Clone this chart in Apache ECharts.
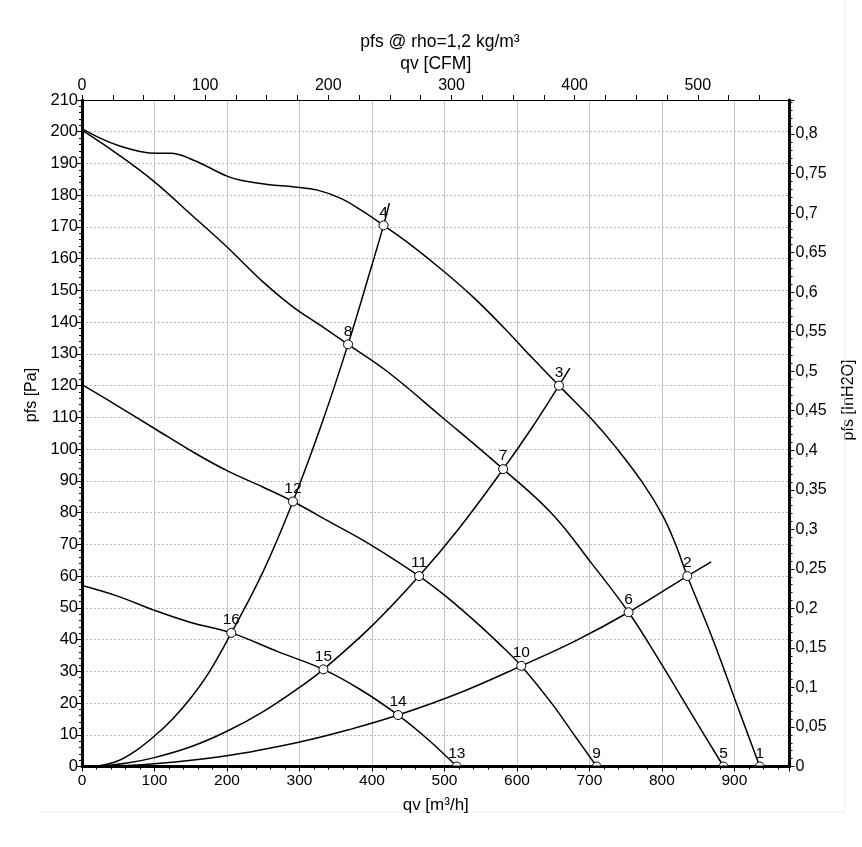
<!DOCTYPE html>
<html>
<head>
<meta charset="utf-8">
<script src="https://cdn.jsdelivr.net/npm/echarts@6/dist/echarts.min.js"></script>
<style>
html,body{margin:0;padding:0;background:#fff;}
#chart{width:862px;height:847px;}
</style>
</head>
<body>
<div id="chart"></div>
<script>
// ---- data (qv in m3/h, pfs in Pa) ----
const curve1 = [[0,201],[25,198],[52,195.5],[80,193.8],[103,193.2],[122,193.2],[154,191],[200,186],[219,184.7],[256,183.4],[293,182.6],[325,181.6],[357,179],[385,175.3],[416,170.5],[454,164.3],[496,156.6],[540,147.8],[583,138],[620,129],[658,120],[703,109.5],[736,100.7],[773,89.5],[800,79.5],[818,70.5],[835,60],[870,40.2],[905,18.5],[935,0]];
const curve5 = [[0,200.5],[50,192.8],[100,184.2],[150,174],[200,163.7],[250,152.6],[290,145],[330,138.8],[367,133],[422,124.3],[496,110.2],[581,93.7],[648,79.7],[703,64],[754,48.6],[796,33.5],[846,14.6],[885,0]];
const curve9 = [[0,120.3],[50,113.5],[100,106.5],[150,99.5],[200,93.2],[250,88],[291,83.5],[340,77.3],[400,69.6],[465,60],[500,54],[540,46.2],[575,38.8],[606,31.7],[648,19.9],[680,9.6],[710,0]];
const curve13 = [[0,57],[50,53.6],[100,49.2],[150,45.4],[206,42.1],[270,36.2],[333,30.6],[385,24.1],[436,16.2],[477,8.6],[517,0]];
const system1 = [[18,0],[50,1.8],[75,5.1],[100,9.6],[125,15],[150,21.6],[175,29.6],[206,42.1],[250,61.5],[291,83.5],[330,107.5],[367,133],[400,158],[416,170.5],[424,177.5]];
const system2 = [[18,0],[60,1],[100,2.8],[150,6.2],[200,11.1],[250,17.3],[300,24.9],[333,30.6],[400,44.3],[465,60],[520,75],[581,93.7],[620,106.5],[658,120],[673,125.5]];
const system3 = [[18,0],[100,0.9],[200,3.4],[300,7.7],[370,11.7],[436,16.2],[523,23.4],[606,31.7],[680,39.5],[754,48.6],[835,60],[868,64.5]];
const markerIds = ['1','2','3','4','5','6','7','8','9','10','11','12','13','14','15','16'];
const markerQ = [935,835,658,416,885,754,581,367,710,606,465,291,517,436,333,206];
const markerP = [0,60,120,170.5,0,48.6,93.7,133,0,31.7,60,83.5,0,16.2,30.6,42.1];
const xTickLabels = [0,100,200,300,400,500,600,700,800,900];
const cfmTickLabels = [0,100,200,300,400,500];
const qMax = 976;          // m3/h
const pMax = 210;          // Pa
const CFM = 1.699;         // m3/h per CFM
const PA_PER_INH2O = 249.089;

const font = 'Liberation Sans, Arial, sans-serif';
const chart = echarts.init(document.getElementById('chart'), null, {renderer:'canvas'});

const lineSeries = [curve1, curve5, curve9, curve13, system1, system2, system3].map(d => ({
  type:'line', xAxisIndex:0, yAxisIndex:0, data:d, smooth:0.4, showSymbol:false,
  lineStyle:{color:'#000', width:1.5}, silent:true, z:3
}));

const markerData = markerIds.map((id,i) => ({name:id, value:[markerQ[i], markerP[i]]}));

chart.setOption({
  animation:false,
  backgroundColor:'#fff',
  grid:{left:82, right:72.5, top:100, bottom:80.5, containLabel:false},
  xAxis:[
    {type:'value', position:'bottom', min:0, max:qMax, interval:100,
      name:'qv [m³/h]', nameLocation:'middle', nameGap:30,
      nameTextStyle:{fontFamily:font, fontSize:17, color:'#000'},
      axisLine:{show:true, onZero:false, lineStyle:{color:'#000', width:3}},
      axisTick:{show:true, length:5, lineStyle:{color:'#000', width:1}},
      minorTick:{show:true, splitNumber:5, length:3, lineStyle:{color:'#000'}},
      axisLabel:{margin:6, fontFamily:font, fontSize:15.5, color:'#000',
        formatter: v => xTickLabels.includes(v) ? String(v) : ''},
      splitLine:{show:true, lineStyle:{color:'#c4c4c4', width:1, type:'solid'}}
    },
    {type:'value', position:'top', min:0, max:qMax/CFM, interval:25,
      name:'qv [CFM]', nameLocation:'middle', nameGap:27,
      nameTextStyle:{fontFamily:font, fontSize:17.5, color:'#000'},
      axisLine:{show:true, onZero:false, lineStyle:{color:'#000', width:1}},
      axisTick:{show:true, length:5, lineStyle:{color:'#000'}},
      axisLabel:{margin:6, fontFamily:font, fontSize:16, color:'#000', showMaxLabel:false,
        formatter: v => cfmTickLabels.includes(v) ? String(v) : ''},
      splitLine:{show:false}
    }
  ],
  yAxis:[
    {type:'value', position:'left', min:0, max:pMax, interval:10,
      axisLine:{show:true, onZero:false, lineStyle:{color:'#000', width:3}},
      axisTick:{show:true, length:5, lineStyle:{color:'#000'}},
      minorTick:{show:true, splitNumber:5, length:3, lineStyle:{color:'#000'}},
      axisLabel:{margin:4, fontFamily:font, fontSize:16.5, color:'#000'},
      splitLine:{show:true, lineStyle:{color:'#b8b8b8', width:1, type:[2,2]}}
    },
    {type:'value', position:'right', min:0, max:pMax/PA_PER_INH2O, interval:0.05,
      axisLine:{show:true, onZero:false, lineStyle:{color:'#000', width:3}},
      axisTick:{show:true, length:5, lineStyle:{color:'#000'}},
      minorTick:{show:true, splitNumber:5, length:3, lineStyle:{color:'#000'}},
      axisLabel:{margin:6, fontFamily:font, fontSize:16, color:'#000', showMaxLabel:false,
        formatter: v => {
          const k = v*20;
          if (Math.abs(k - Math.round(k)) > 1e-6) return '';
          return String(+v.toFixed(2)).replace('.', ',');
        }},
      splitLine:{show:false}
    }
  ],
  series: lineSeries.concat([{
    type:'custom', xAxisIndex:0, yAxisIndex:0, data:markerData, z:5, silent:true, clip:false,
    encode:{x:0, y:1},
    renderItem:(params, api) => {
      const pt = api.coord([api.value(0), api.value(1)]);
      const cs = params.coordSys;
      return {type:'group', children:[
        {type:'circle', shape:{cx:pt[0], cy:pt[1], r:4.5},
          style:{fill:'#fff', stroke:'#000', lineWidth:1},
          clipPath:{type:'rect', shape:{x:cs.x, y:cs.y, width:cs.width, height:cs.height - 1}}},
        {type:'text', x:pt[0], y:pt[1] - 5,
          style:{text:markerIds[params.dataIndex], align:'center', verticalAlign:'bottom',
            font:'15.5px ' + font, fill:'#000'}}
      ]};
    }
  }]),
  graphic:[
    {type:'text', x:440, y:42, style:{text:'pfs @ rho=1,2 kg/m³', x:0, y:0,
      align:'center', verticalAlign:'middle', font:'17.5px ' + font, fill:'#000'}, silent:true},
    {type:'text', x:32, y:395, rotation:Math.PI/2, style:{text:'pfs [Pa]', x:0, y:0,
      align:'center', verticalAlign:'middle', font:'16px ' + font, fill:'#000'}, silent:true},
    {type:'text', x:849, y:400, rotation:Math.PI/2, style:{text:'pfs [InH2O]', x:0, y:0,
      align:'center', verticalAlign:'middle', font:'16px ' + font, fill:'#000'}, silent:true},
    {type:'line', shape:{x1:845, y1:0, x2:845, y2:812}, style:{stroke:'#eeeeee', lineWidth:1}, silent:true},
    {type:'line', shape:{x1:40, y1:812, x2:845, y2:812}, style:{stroke:'#eeeeee', lineWidth:1}, silent:true}
  ]
});
</script>
</body>
</html>
